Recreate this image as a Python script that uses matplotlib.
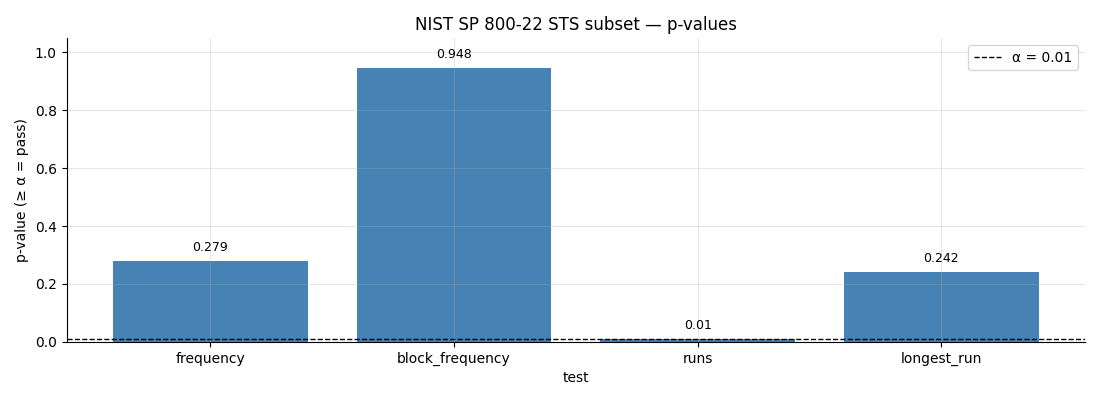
import matplotlib
matplotlib.use("Agg")
import matplotlib.pyplot as plt

tests = ["frequency", "block_frequency", "runs", "longest_run"]
pvalues = [0.279, 0.948, 0.01, 0.242]
alpha = 0.01

fig, ax = plt.subplots(figsize=(11, 4), dpi=100)
fig.subplots_adjust(left=0.0605, right=0.9865, top=0.905, bottom=0.1455)

bars = ax.bar(tests, pvalues, color="steelblue", width=0.8)
for b, v in zip(bars, pvalues):
    ax.annotate(f"{v:.3g}", (b.get_x() + b.get_width() / 2, b.get_height()),
                xytext=(0, 5), textcoords="offset points", ha="center", va="bottom", fontsize=9)

ax.axhline(alpha, color="black", linestyle="--", linewidth=1, label=f"α = {alpha}")
ax.set_ylim(0, 1.05)
ax.set_xlabel("test")
ax.set_ylabel("p-value (≥ α = pass)")
ax.set_title("NIST SP 800-22 STS subset — p-values")
ax.grid(True, alpha=0.3)
ax.set_axisbelow(False)
ax.spines["top"].set_visible(False)
ax.spines["right"].set_visible(False)
ax.legend(loc="upper right")

fig.savefig("out.png")
